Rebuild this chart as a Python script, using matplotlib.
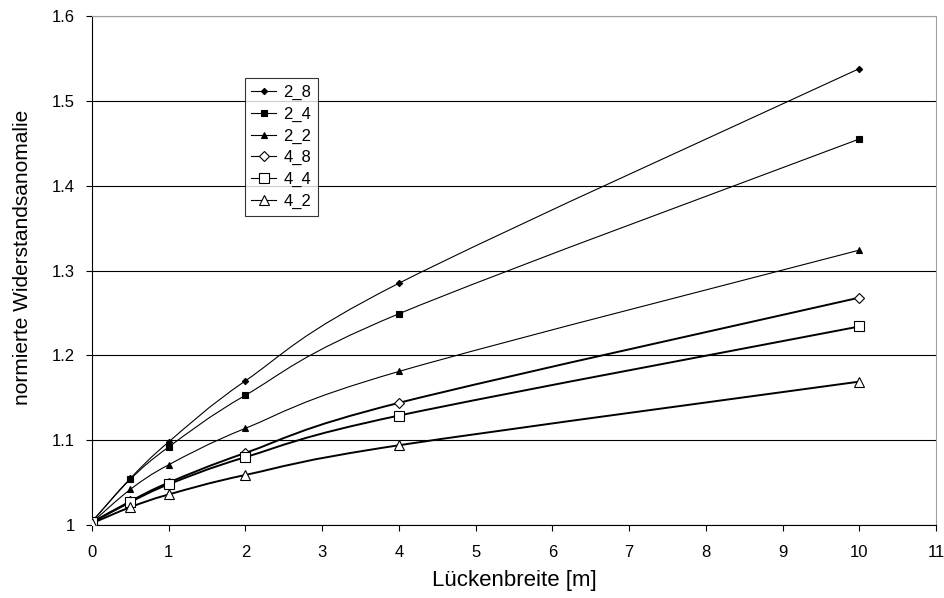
import numpy as np
import matplotlib.pyplot as plt
from matplotlib.path import Path
from matplotlib.patches import PathPatch
from matplotlib.lines import Line2D
from matplotlib.ticker import FuncFormatter

# Lückenbreite [m]
x = [0, 0.5, 1, 2, 4, 10]

# normierte Widerstandsanomalie je Konfiguration
y_2_8 = [1.004, 1.055, 1.098, 1.170, 1.285, 1.538]
y_2_4 = [1.004, 1.054, 1.092, 1.153, 1.249, 1.455]
y_2_2 = [1.003, 1.042, 1.071, 1.114, 1.181, 1.324]
y_4_8 = [1.003, 1.028, 1.050, 1.085, 1.144, 1.268]
y_4_4 = [1.003, 1.027, 1.048, 1.080, 1.129, 1.234]
y_4_2 = [1.002, 1.021, 1.036, 1.059, 1.094, 1.169]

labels = ['2_8', '2_4', '2_2', '4_8', '4_4', '4_2']
series = [y_2_8, y_2_4, y_2_2, y_4_8, y_4_4, y_4_2]
markers = ['D', 's', '^', 'D', 's', '^']
filled = [True, True, True, False, False, False]
msizes = [3.2, 4.0, 4.5, 5.5, 6.5, 6.5]
lwidths = [0.8, 0.8, 0.8, 1.4, 1.4, 1.4]


def smooth_path(xs, ys):
    ''' Bezier-Pfad wie Excel "geglättete Linie" '''
    pts = np.column_stack([xs, ys])
    n = len(pts)
    verts = [pts[0]]
    codes = [Path.MOVETO]
    for i in range(n - 1):
        p0 = pts[i - 1] if i > 0 else pts[i]
        p1 = pts[i]
        p2 = pts[i + 1]
        p3 = pts[i + 2] if i + 2 < n else pts[i + 1]
        c1 = p1 + (p2 - p0) / 6
        c2 = p2 - (p3 - p1) / 6
        verts += [c1, c2, p2]
        codes += [Path.CURVE4] * 3
    return Path(verts, codes)


plt.rcParams['font.family'] = ['Liberation Sans', 'DejaVu Sans']

fig = plt.figure(figsize=(9.45, 5.98), dpi=100)
ax = fig.add_axes([0.0974, 0.1221, 0.8931, 0.8511])

for ys, lab, m, f, ms, lw in zip(series, labels, markers, filled, msizes, lwidths):
    ax.add_patch(PathPatch(smooth_path(x, ys), facecolor='none', edgecolor='black',
                           lw=lw, zorder=3))
    ax.plot(x, ys, linestyle='None', marker=m, markersize=ms,
            markerfacecolor='black' if f else 'white', markeredgecolor='black',
            markeredgewidth=0.8, zorder=4)

ax.set_xlim(0, 11)
ax.set_ylim(1, 1.6)
ax.set_xticks(np.arange(0, 12, 1))
ax.set_yticks([1, 1.1, 1.2, 1.3, 1.4, 1.5, 1.6])
ax.yaxis.set_major_formatter(FuncFormatter(lambda v, p: '%g' % round(v, 2)))
ax.yaxis.grid(True, color='black', lw=0.8)
ax.set_axisbelow(True)

for s in ['top', 'right']:
    ax.spines[s].set_color('#a0a0a0')
for s in ['left', 'bottom']:
    ax.spines[s].set_color('black')
    ax.spines[s].set_linewidth(0.8)
ax.tick_params(direction='out', length=4.5, width=0.8, labelsize=12)
ax.tick_params(axis='x', pad=10)
ax.tick_params(axis='y', pad=8)

ax.set_xlabel('Lückenbreite [m]', fontsize=16, labelpad=7)
ax.set_ylabel('normierte Widerstandsanomalie', fontsize=15)
ax.yaxis.set_label_coords(-0.071, 0.526)

# Legende mit Linien
leg_handles = [Line2D([], [], color='black', lw=0.8, marker=m, markersize=ms,
                      markerfacecolor='black' if f else 'white', markeredgecolor='black',
                      markeredgewidth=0.8)
               for m, f, ms in zip(markers, filled, msizes)]
leg = ax.legend(leg_handles, labels, loc='upper left', bbox_to_anchor=(0.181, 0.878),
                frameon=True, fancybox=False, edgecolor='black', fontsize=12,
                handlelength=1.5, handletextpad=0.4, labelspacing=0.4,
                borderpad=0.4, borderaxespad=0)
leg.get_frame().set_linewidth(0.8)

fig.savefig('out.png', dpi=100)
